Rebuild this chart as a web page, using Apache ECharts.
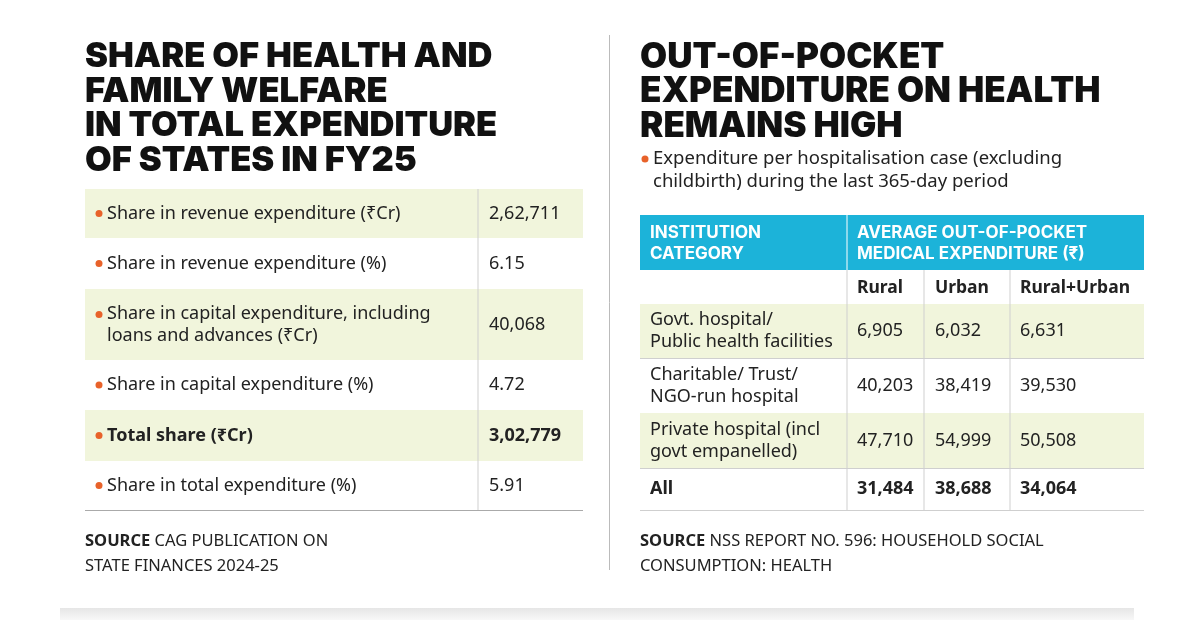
<!DOCTYPE html>
<html><head><meta charset="utf-8">
<script src="https://cdn.jsdelivr.net/npm/echarts@6/dist/echarts.min.js"></script>
<style>html,body{margin:0;background:#fff}#main{width:1200px;height:632px}</style>
</head><body><div id="main"></div>
<script>
var leftTitle = ['SHARE OF HEALTH AND', 'FAMILY WELFARE', 'IN TOTAL EXPENDITURE', 'OF STATES IN FY25'];
var leftLabels = ['Share in revenue expenditure (\u20b9Cr)', 'Share in revenue expenditure (%)',
  'Share in capital expenditure, including\nloans and advances (\u20b9Cr)', 'Share in capital expenditure (%)',
  'Total share (\u20b9Cr)', 'Share in total expenditure (%)'];
var leftValues = ['2,62,711', '6.15', '40,068', '4.72', '3,02,779', '5.91'];
var leftBold = [false, false, false, false, true, false];

var rightTitle = ['OUT-OF-POCKET', 'EXPENDITURE ON HEALTH', 'REMAINS HIGH'];
var rightNote = 'Expenditure per hospitalisation case (excluding\nchildbirth) during the last 365-day period';
var colHeads = ['Rural', 'Urban', 'Rural+Urban'];
var categories = ['Govt. hospital/\nPublic health facilities', 'Charitable/ Trust/\nNGO-run hospital',
  'Private hospital (incl\ngovt empanelled)', 'All'];
var rural = ['6,905', '40,203', '47,710', '31,484'];
var urban = ['6,032', '38,419', '54,999', '38,688'];
var ruralUrban = ['6,631', '39,530', '50,508', '34,064'];

var FONT = '"Noto Sans", sans-serif';
var TFONT = 'Inter, "Noto Sans", sans-serif';
var GREEN = '#f1f5dc', LINE = '#cfcfcf', DOT = '#e8622a';
var g = [];
function txt(x, y, s, o) {
  o = o || {};
  g.push({type: 'text', x: x, y: y, style: {text: s, fill: o.fill || '#222', font: (o.weight || 'normal') + ' ' + (o.size || 18) + 'px ' + (o.family || FONT), lineHeight: o.lh || 22, textVerticalAlign: o.va || 'middle', textAlign: o.align || 'left'}});
}
function rect(x, y, w, h, c) { g.push({type: 'rect', shape: {x: x, y: y, width: w, height: h}, style: {fill: c}}); }
function line(x1, y1, x2, y2, c, w) { g.push({type: 'line', shape: {x1: x1, y1: y1, x2: x2, y2: y2}, style: {stroke: c || LINE, lineWidth: w || 1}}); }
function dot(x, y) { g.push({type: 'circle', shape: {cx: x, cy: y, r: 3.5}, style: {fill: DOT}}); }
function source(x, y, lines) {
  g.push({type: 'text', x: x, y: y, style: {text: '{b|SOURCE} ' + lines, font: '16.5px ' + FONT, fill: '#222', lineHeight: 25, textVerticalAlign: 'top', letterSpacing: 0.6,
    rich: {b: {fontWeight: 'bold', fontSize: 16.5, fontFamily: 'Noto Sans', fill: '#222'}}}});
}

leftTitle.forEach(function (s, i) { txt(85, 57 + i * 34.5, s, {size: 34.5, weight: 900, family: TFONT, fill: '#111'}); });
var rowsY = [189, 238, 289, 360, 410, 461, 510];
leftLabels.forEach(function (s, i) {
  var y0 = rowsY[i], y1 = rowsY[i + 1], cy = (y0 + y1) / 2;
  if (i % 2 === 0) rect(85, y0, 498, y1 - y0, GREEN);
  var multi = s.indexOf('\n') >= 0;
  dot(99, multi ? cy - 10 : cy);
  txt(107, cy, s, {weight: leftBold[i] ? 'bold' : 'normal'});
  txt(489, cy, leftValues[i], {weight: leftBold[i] ? 'bold' : 'normal'});
});
line(478, 189, 478, 510);
line(85, 510.5, 583, 510.5, '#aaa');
source(85, 529, 'CAG PUBLICATION ON\nSTATE FINANCES 2024-25');

line(609.5, 35, 609.5, 570, '#bbb');

rightTitle.forEach(function (s, i) { txt(640, 57 + i * 34.5, s, {size: 35, weight: 900, family: TFONT, fill: '#111'}); });
dot(645, 159);
txt(653, 170, rightNote, {size: 18.5, lh: 23});

rect(640, 215, 504, 55, '#1cb3d9');
line(847, 215, 847, 510, '#fff');
txt(650, 243, 'INSTITUTION\nCATEGORY', {weight: 'bold', fill: '#fff', size: 17, family: TFONT, lh: 21});
txt(857, 243, 'AVERAGE OUT-OF-POCKET\nMEDICAL EXPENDITURE (\u20b9)', {weight: 'bold', fill: '#fff', size: 17, family: TFONT, lh: 21});
var colX = [857, 935, 1020];
colHeads.forEach(function (s, i) { txt(colX[i], 288, s, {weight: 'bold', size: 17.5}); });
var rY = [304, 358, 413, 468, 510];
categories.forEach(function (s, i) {
  var y0 = rY[i], y1 = rY[i + 1], cy = (y0 + y1) / 2;
  if (i % 2 === 0 && i < 3) rect(640, y0, 504, y1 - y0, GREEN);
  var b = i === 3 ? 'bold' : 'normal';
  txt(650, cy, s, {weight: b});
  txt(colX[0], cy, rural[i], {weight: b});
  txt(colX[1], cy, urban[i], {weight: b});
  txt(colX[2], cy, ruralUrban[i], {weight: b});
  line(640, y1 + 0.5, 1144, y1 + 0.5, LINE);
});
line(847, 270, 847, 510, LINE);
line(924, 270, 924, 510, LINE);
line(1010, 270, 1010, 510, LINE);
source(640, 529, 'NSS REPORT NO. 596: HOUSEHOLD SOCIAL\nCONSUMPTION: HEALTH');

g.push({type: 'rect', shape: {x: 60, y: 608, width: 1074, height: 12}, style: {fill: new echarts.graphic.LinearGradient(0, 0, 0, 1, [{offset: 0, color: '#e6e6e6'}, {offset: 1, color: '#f8f8f8'}])}});

var chart = echarts.init(document.getElementById('main'));
chart.setOption({backgroundColor: '#fff', animation: false, graphic: g});
</script></body></html>
